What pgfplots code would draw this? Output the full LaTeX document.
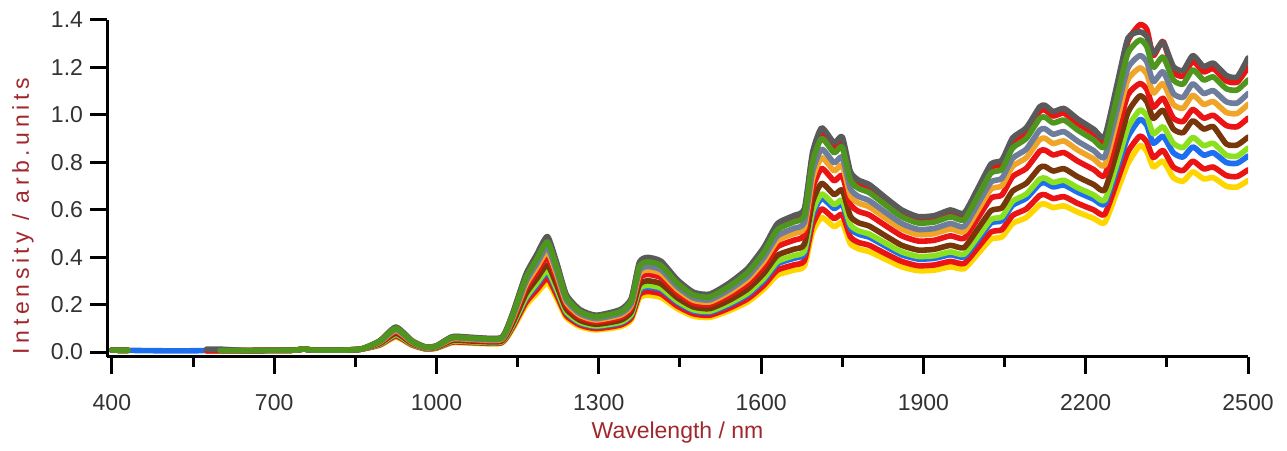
\documentclass[border=0pt]{standalone}
\usepackage{fontspec}
\setmainfont{Liberation Sans}
\newfontfamily\ylabfont[LetterSpace=20]{Liberation Sans}
\usepackage{pgfplots}
\usepackage{pgfplotstable}
\pgfplotsset{compat=1.18}

\definecolor{cgreen}{RGB}{78,150,30}
\definecolor{cgray}{RGB}{90,90,90}
\definecolor{cred}{RGB}{235,20,20}
\definecolor{cslate}{RGB}{110,125,155}
\definecolor{corange}{RGB}{240,165,40}
\definecolor{cbrown}{RGB}{120,55,10}
\definecolor{clgreen}{RGB}{140,225,30}
\definecolor{cblue}{RGB}{30,110,240}
\definecolor{cyellow}{RGB}{255,215,0}
\definecolor{labred}{RGB}{160,40,45}
\definecolor{ticktext}{RGB}{50,50,50}

% spectra: wavelength (nm) and intensity of each sample
\pgfplotstableread{
x G GY R1 SL OR R2 BR LG BL R3 YE
400 .008 .008 .008 .008 .008 .008 .008 .008 .008 .008 .008
430 .007 .007 .007 .007 .007 .007 .007 .007 .007 .007 .007
460 nan nan nan nan nan nan nan nan .006 nan nan
500 nan nan nan nan nan nan nan nan .005 nan nan
540 nan nan nan nan nan nan nan nan .005 nan nan
575 nan .012 .006 .006 .006 .006 .006 .006 .006 .006 .006
600 .006 .012 .006 .006 .006 .006 .006 .006 .006 .006 .006
650 .006 .006 .006 .006 .006 .006 .006 .006 .006 .006 .006
700 .007 .007 .007 .007 .007 .007 .007 .007 .007 .007 .007
740 .008 .008 .008 .008 .008 .008 .008 .008 .008 .008 .008
755 .013 .013 .013 .013 .013 .013 .013 .013 .013 .013 .013
770 .008 .008 .008 .008 .008 .008 .008 .008 .008 .008 .008
820 .008 .008 .008 .008 .008 .008 .008 .008 .008 .008 .008
860 .012 .012 .012 .012 .012 .012 .012 .012 .012 .012 .012
895 .045 .047 .046 .043 .041 .039 .036 .033 .032 .030 .028
925 .100 .105 .103 .095 .091 .086 .079 .074 .072 .067 .063
955 .045 .047 .046 .043 .041 .039 .036 .033 .032 .030 .028
980 .020 .021 .021 .019 .018 .017 .016 .015 .014 .013 .013
1000 .025 .026 .026 .024 .023 .022 .020 .019 .018 .017 .016
1030 .062 .065 .064 .059 .056 .053 .049 .046 .045 .042 .039
1070 .058 .061 .060 .055 .053 .050 .046 .043 .042 .039 .037
1120 .058 .061 .060 .055 .053 .050 .046 .043 .042 .039 .037
1140 .150 .158 .155 .143 .137 .129 .119 .111 .108 .101 .095
1165 .310 .326 .319 .295 .282 .267 .245 .229 .223 .208 .195
1185 .390 .410 .402 .371 .355 .335 .308 .289 .281 .261 .246
1205 .464 .487 .478 .441 .422 .399 .367 .343 .334 .311 .292
1222 .360 .378 .371 .342 .328 .310 .284 .266 .259 .241 .227
1240 .230 .242 .237 .219 .209 .198 .182 .170 .166 .154 .145
1265 .170 .179 .175 .162 .155 .146 .134 .126 .122 .114 .107
1295 .148 .155 .152 .141 .135 .127 .117 .110 .107 .099 .093
1340 .170 .179 .175 .162 .155 .146 .134 .126 .122 .114 .107
1360 .215 .226 .221 .204 .196 .185 .170 .159 .155 .144 .135
1375 .360 .378 .371 .342 .328 .310 .284 .266 .259 .241 .227
1390 .380 .399 .391 .361 .346 .327 .300 .281 .274 .255 .239
1415 .365 .383 .376 .347 .332 .314 .288 .270 .263 .245 .230
1445 .290 .305 .299 .276 .264 .249 .229 .215 .209 .194 .183
1475 .240 .252 .247 .228 .218 .206 .190 .178 .173 .161 .151
1505 .232 .244 .239 .220 .211 .200 .183 .172 .167 .155 .146
1540 .275 .289 .283 .261 .250 .237 .217 .204 .198 .184 .173
1575 .335 .352 .345 .318 .305 .288 .265 .248 .241 .224 .211
1605 .420 .441 .433 .399 .382 .361 .332 .311 .302 .281 .265
1630 .515 .541 .530 .489 .469 .443 .407 .381 .371 .345 .324
1660 .548 .575 .564 .521 .499 .471 .433 .406 .395 .367 .345
1680 .575 .604 .592 .546 .523 .495 .454 .426 .414 .385 .362
1695 .800 .840 .824 .760 .728 .688 .632 .592 .576 .536 .504
1712 .900 .945 .927 .855 .819 .774 .711 .666 .648 .603 .567
1735 .840 .882 .865 .798 .764 .722 .664 .622 .605 .563 .529
1750 .865 .908 .891 .822 .787 .744 .683 .640 .623 .580 .545
1765 .725 .761 .747 .689 .660 .624 .573 .537 .522 .486 .457
1780 .690 .725 .711 .656 .628 .593 .545 .511 .497 .462 .435
1800 .672 .706 .692 .638 .612 .578 .531 .497 .484 .450 .423
1830 .620 .651 .639 .589 .564 .533 .490 .459 .446 .415 .391
1860 .570 .599 .587 .542 .519 .490 .450 .422 .410 .382 .359
1890 .544 .571 .560 .517 .495 .468 .430 .403 .392 .364 .343
1920 .548 .575 .564 .521 .499 .471 .433 .406 .395 .367 .345
1950 .570 .599 .587 .542 .519 .490 .450 .422 .410 .382 .359
1975 .557 .585 .574 .529 .507 .479 .440 .412 .401 .373 .351
2000 .654 .687 .674 .621 .595 .562 .517 .484 .471 .438 .412
2025 .755 .793 .778 .717 .687 .649 .596 .559 .544 .506 .476
2045 .770 .809 .793 .732 .701 .662 .608 .570 .554 .516 .485
2065 .860 .903 .886 .817 .783 .740 .679 .636 .619 .576 .542
2090 .900 .945 .927 .855 .819 .774 .711 .666 .648 .603 .567
2115 .985 1.034 1.015 .936 .896 .847 .778 .729 .709 .660 .621
2125 .990 1.040 1.020 .941 .901 .851 .782 .733 .713 .663 .624
2140 .966 1.014 .995 .918 .879 .831 .763 .715 .696 .647 .609
2160 .978 1.027 1.007 .929 .890 .841 .773 .724 .704 .655 .616
2185 .936 .983 .964 .889 .852 .805 .739 .693 .674 .627 .590
2215 .894 .939 .921 .849 .814 .769 .706 .662 .644 .599 .563
2235 .865 .908 .891 .822 .787 .744 .683 .640 .623 .580 .545
2258 1.075 1.129 1.107 1.021 .978 .925 .849 .796 .774 .720 .677
2278 1.260 1.323 1.310 1.197 1.147 1.084 1.010 .945 .907 .844 .794
2300 1.316 1.350 1.380 1.250 1.198 1.132 1.080 1.020 .980 .910 .870
2313 1.287 1.330 1.360 1.223 1.171 1.107 1.055 .995 .955 .885 .845
2325 1.200 1.260 1.250 1.140 1.092 1.032 .985 .920 .880 .820 .780
2343 1.244 1.306 1.310 1.182 1.132 1.070 1.020 .950 .910 .850 .805
2362 1.147 1.204 1.181 1.090 1.044 .986 .940 .880 .840 .780 .735
2380 1.130 1.187 1.164 1.074 1.028 .972 .925 .862 .822 .765 .720
2398 1.190 1.250 1.226 1.131 1.083 1.023 .975 .905 .865 .805 .760
2418 1.147 1.204 1.181 1.090 1.044 .986 .940 .870 .830 .772 .730
2436 1.160 1.218 1.195 1.102 1.056 .998 .950 .880 .840 .780 .735
2460 1.110 1.166 1.143 1.055 1.010 .955 .877 .830 .799 .744 .699
2480 1.105 1.160 1.138 1.050 1.006 .950 .873 .826 .796 .740 .696
2500 1.147 1.240 1.200 1.090 1.044 .986 .906 .860 .826 .768 .723
}\spec

\newcommand\tfont{\fontsize{11.5bp}{14bp}\selectfont}

\begin{document}
\begin{tikzpicture}
\begin{axis}[
    scale only axis,
    width=570.5bp, height=168.5bp,
    xmin=391, xmax=2500,
    ymin=-0.021, ymax=1.4,
    axis x line*=bottom, axis y line*=left,
    axis line style={line width=1.5bp, -},
    tick align=outside,
    tick style={line width=1.5bp, black},
    major tick length=8.5bp, minor tick length=5bp,
    xtick={400,700,1000,1300,1600,1900,2200,2500},
    minor x tick num=1,
    ytick={0,0.2,0.4,0.6,0.8,1.0,1.2,1.4},
    /pgf/number format/assume math mode=true,
    xticklabel style={font=\tfont, text=ticktext, yshift=-6.5bp,
        /pgf/number format/set thousands separator={}},
    yticklabel style={font=\tfont, text=ticktext,
        /pgf/number format/.cd, fixed, fixed zerofill, precision=1},
    xlabel={Wavelength / nm},
    ylabel={\ylabfont Intensity / arb.units},
    xlabel style={font=\tfont, text=labred, at={(axis description cs:0.5,-0.2433)}, anchor=base},
    ylabel style={font=\tfont, text=labred, at={(axis description cs:-0.0684,0.418)}, anchor=base, rotate=0},
    unbounded coords=jump,
    every axis plot/.append style={line width=2.8bp, line join=round, line cap=round, no marks, smooth, tension=0.35},
]
\addplot[cyellow] table[x=x, y=YE] {\spec};
\addplot[cred] table[x=x, y=R3] {\spec};
\addplot[cblue] table[x=x, y=BL] {\spec};
\addplot[clgreen] table[x=x, y=LG] {\spec};
\addplot[cbrown] table[x=x, y=BR] {\spec};
\addplot[cred] table[x=x, y=R2] {\spec};
\addplot[corange] table[x=x, y=OR] {\spec};
\addplot[cslate] table[x=x, y=SL] {\spec};
\addplot[cred] table[x=x, y=R1] {\spec};
\addplot[cgray] table[x=x, y=GY] {\spec};
\addplot[cgreen] table[x=x, y=G] {\spec};
\end{axis}
\path ([shift={(-53.5bp,-44.5bp)}]current axis.south west) rectangle ([shift={(19.5bp,10bp)}]current axis.north east);
\end{tikzpicture}
\end{document}
